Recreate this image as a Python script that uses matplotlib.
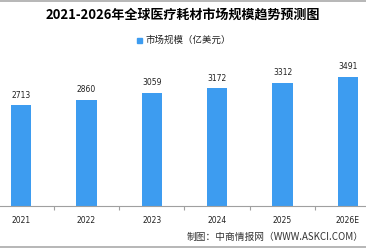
import matplotlib
matplotlib.use("Agg")
import matplotlib.pyplot as plt
from matplotlib.lines import Line2D
import numpy as np

plt.rcParams['font.family'] = ['Noto Sans CJK SC', 'DejaVu Sans']

categories = ["2021", "2022", "2023", "2024", "2025", "2026E"]
values = [2713, 2860, 3059, 3172, 3312, 3491]
title = "2021-2026年全球医疗耗材市场规模趋势预测图"
legend_label = "市场规模（亿美元）"
source = "制图：中商情报网（WWW.ASKCI.COM）"

W, H = 366, 248
fig = plt.figure(figsize=(W / 100, H / 100), dpi=100)
bar_color = "#3d9cf0"

ax = fig.add_axes([0, 42 / H, 1, 148.3 / H])
x = np.arange(len(categories))
ax.bar(x, values, width=0.31, color=bar_color)
ax.set_xlim(-0.321, 5.276)
ax.set_ylim(0, 4000)
for xi, v in zip(x, values):
    ax.text(xi, v + 280, str(v), ha="center", va="center", fontsize=5.5,
            family=["DejaVu Sans"], color="#222222")
for s in ["top", "right", "left"]:
    ax.spines[s].set_visible(False)
ax.spines["bottom"].set_color("#a0a0a0")
ax.spines["bottom"].set_linewidth(0.8)
ax.set_yticks([])
ax.set_xticks(x)
ax.set_xticklabels(categories, fontsize=5.5, family=["DejaVu Sans"], color="#222222")
ax.tick_params(axis="x", which="major", length=0, pad=7)
ax.set_xticks(x[:-1] + 0.5, minor=True)
ax.tick_params(axis="x", which="minor", length=3, color="#a0a0a0", width=0.8)

fig.text(0.5, 1 - 15 / H, title, ha="center", va="center", fontsize=9.4,
         fontweight="bold", color="#000000")
# legend
fig.patches.append(plt.Rectangle((137 / W, 1 - 42.5 / H), 4.5 / W, 4.5 / H,
                                 transform=fig.transFigure, color=bar_color))
fig.text(146 / W, 1 - 40 / H, legend_label, ha="left", va="center",
         fontsize=6.8, color="#222222")
fig.text((W - 2) / W, 1 - 237 / H, source, ha="right", va="center", fontsize=7.0,
         color="#333333")

fig.add_artist(Line2D([0, 1], [1 - 0.5 / H, 1 - 0.5 / H], transform=fig.transFigure,
                      color="#aaaaaa", lw=1.2))
fig.add_artist(Line2D([0, 1], [0.8 / H, 0.8 / H], transform=fig.transFigure,
                      color="#aaaaaa", lw=1.2))

fig.savefig("out.png", dpi=100)
